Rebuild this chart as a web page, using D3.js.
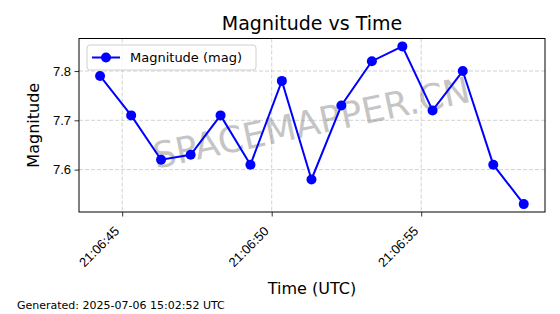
<!DOCTYPE html>
<html>
<head>
<meta charset="utf-8">
<script src="https://cdn.jsdelivr.net/npm/d3@7"></script>
<style>
  body { margin: 0; background: #fff; }
  svg { font-family: "DejaVu Sans", sans-serif; }
</style>
</head>
<body>
<div id="chart"></div>
<script>
// seconds past 21:06:00 UTC
const seconds = [44.26, 45.30, 46.30, 47.29, 48.29, 49.29, 50.34, 51.33, 52.33, 53.35, 54.37, 55.38, 56.39, 57.41, 58.43];
const magnitudes = [7.79, 7.71, 7.62, 7.63, 7.71, 7.61, 7.78, 7.58, 7.73, 7.82, 7.85, 7.72, 7.80, 7.61, 7.53];
const yTicks = [7.6, 7.7, 7.8];
const xTickSeconds = [45, 50, 55];

const width = 560, height = 314;
const margin = {left: 79, right: 15, top: 38.5, bottom: 102};

const baseDate = s => new Date(Date.UTC(2025, 6, 6, 21, 6, 0) + s * 1000);
const data = seconds.map((s, i) => ({t: baseDate(s), v: magnitudes[i]}));

const svg = d3.select("#chart").append("svg")
    .attr("width", width)
    .attr("height", height);

const x = d3.scaleUtc()
    .domain([baseDate(43.556), baseDate(59.14)])
    .range([margin.left, width - margin.right]);

const y = d3.scaleLinear()
    .domain([7.514, 7.866])
    .range([height - margin.bottom, margin.top]);

const fmt = d3.utcFormat("%H:%M:%S");

// grid
svg.append("g").selectAll("line")
    .data(xTickSeconds)
    .enter().append("line")
    .attr("x1", d => x(baseDate(d))).attr("x2", d => x(baseDate(d)))
    .attr("y1", margin.top).attr("y2", height - margin.bottom)
    .attr("stroke", "#b0b0b0").attr("stroke-width", 0.8)
    .attr("stroke-dasharray", "4,2").attr("opacity", 0.7);

svg.append("g").selectAll("line")
    .data(yTicks)
    .enter().append("line")
    .attr("x1", margin.left).attr("x2", width - margin.right)
    .attr("y1", d => y(d)).attr("y2", d => y(d))
    .attr("stroke", "#b0b0b0").attr("stroke-width", 0.8)
    .attr("stroke-dasharray", "4,2").attr("opacity", 0.7);

// watermark
svg.append("text")
    .attr("transform", `translate(${(margin.left + width - margin.right) / 2},${y(7.69)}) rotate(-12)`)
    .attr("text-anchor", "middle")
    .attr("dominant-baseline", "middle")
    .attr("font-size", 36)
    .attr("fill", "#808080")
    .attr("opacity", 0.45)
    .text("SPACEMAPPER.CN");

// line + markers
svg.append("path")
    .datum(data)
    .attr("fill", "none")
    .attr("stroke", "#0000ff")
    .attr("stroke-width", 2)
    .attr("d", d3.line().x(d => x(d.t)).y(d => y(d.v)));

svg.append("g").selectAll("circle")
    .data(data)
    .enter().append("circle")
    .attr("cx", d => x(d.t))
    .attr("cy", d => y(d.v))
    .attr("r", 5)
    .attr("fill", "#0000ff");

// axes
const xAxis = svg.append("g")
    .attr("transform", `translate(0,${height - margin.bottom})`)
    .call(d3.axisBottom(x).tickValues(xTickSeconds.map(baseDate)).tickFormat(fmt).tickSize(4.5).tickSizeOuter(0));
xAxis.selectAll("text")
    .attr("font-size", 13)
    .attr("fill", "#000")
    .attr("text-anchor", "end")
    .attr("dy", null)
    .attr("y", 0)
    .attr("transform", "translate(-2.5,20) rotate(-45)");

const yAxis = svg.append("g")
    .attr("transform", `translate(${margin.left},0)`)
    .call(d3.axisLeft(y).tickValues(yTicks).tickFormat(d3.format(".1f")).tickSize(4.5).tickSizeOuter(0));
yAxis.selectAll("text").attr("font-size", 13).attr("fill", "#000").attr("x", -8);

[xAxis, yAxis].forEach(a => {
    a.select(".domain").remove();
    a.selectAll(".tick line").attr("stroke", "#000").attr("stroke-width", 0.8);
});

// frame
svg.append("rect")
    .attr("x", margin.left).attr("y", margin.top)
    .attr("width", width - margin.left - margin.right)
    .attr("height", height - margin.top - margin.bottom)
    .attr("fill", "none").attr("stroke", "#000").attr("stroke-width", 1);

// legend
const legend = svg.append("g").attr("transform", "translate(87,45)");
legend.append("rect")
    .attr("width", 169).attr("height", 25).attr("rx", 3)
    .attr("fill", "#fff").attr("fill-opacity", 0.8)
    .attr("stroke", "#d0d0d0");
legend.append("line")
    .attr("x1", 5).attr("x2", 33).attr("y1", 12.5).attr("y2", 12.5)
    .attr("stroke", "#0000ff").attr("stroke-width", 2);
legend.append("circle")
    .attr("cx", 19).attr("cy", 12.5).attr("r", 5).attr("fill", "#0000ff");
legend.append("text")
    .attr("x", 43).attr("y", 17)
    .attr("font-size", 13)
    .text("Magnitude (mag)");

// titles
svg.append("text")
    .attr("x", (margin.left + width - margin.right) / 2).attr("y", 30)
    .attr("text-anchor", "middle").attr("font-size", 19)
    .text("Magnitude vs Time");

svg.append("text")
    .attr("x", (margin.left + width - margin.right) / 2).attr("y", 294)
    .attr("text-anchor", "middle").attr("font-size", 16)
    .text("Time (UTC)");

svg.append("text")
    .attr("transform", `translate(38.5,${(margin.top + height - margin.bottom) / 2}) rotate(-90)`)
    .attr("text-anchor", "middle").attr("font-size", 16)
    .text("Magnitude");

svg.append("text")
    .attr("x", 17).attr("y", 309)
    .attr("font-size", 11)
    .text("Generated: 2025-07-06 15:02:52 UTC");
</script>
</body>
</html>
